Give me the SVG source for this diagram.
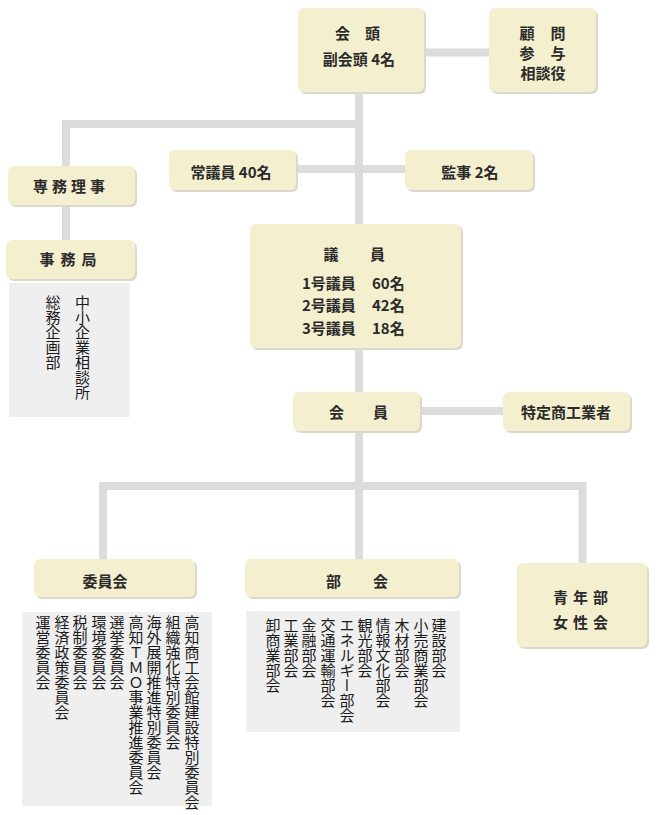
<svg xmlns="http://www.w3.org/2000/svg" width="660" height="815" viewBox="0 0 660 815">
<style>
.ln{fill:none;stroke:#dcdcdc;stroke-width:8;stroke-linejoin:miter;stroke-linecap:butt}
.bx{fill:#f4efcf}
.sh{fill:#dcd9cc}
.gr{fill:#efefef}
.t{font-family:"Noto Sans CJK JP","Noto Sans",sans-serif;font-size:15px;font-weight:bold;fill:#2a2a2a;dominant-baseline:central}
.c{text-anchor:middle}
.v{font-family:"Noto Sans CJK JP","Noto Sans",sans-serif;font-size:15px;fill:#1a1a1a;writing-mode:vertical-rl}
</style>
<rect width="660" height="815" fill="#fff"/>
<g id="connectors">
<path class="ln" d="M359 92V486"/>
<path class="ln" d="M424 52.5H489"/>
<path class="ln" d="M359 124H66V166M66 205V240"/>
<path class="ln" d="M296 169H405"/>
<path class="ln" d="M420 411H503"/>
<path class="ln" d="M103 559V486H582.5V563M359 486V559"/>
</g>
<g id="kaito">
<rect class="sh" x="300" y="10" width="126" height="84" rx="6"/>
<rect class="bx" x="298" y="8" width="126" height="84" rx="6"/>
<text class="t c" x="342.5 372.5" y="32">会頭</text>
<text class="t c" x="359" y="58">副会頭 4名</text>
</g>
<g id="komon">
<rect class="sh" x="491" y="10" width="107" height="84" rx="6"/>
<rect class="bx" x="489" y="8" width="107" height="84" rx="6"/>
<text class="t c" x="527 558" y="32">顧問</text>
<text class="t c" x="527 558" y="52">参与</text>
<text class="t c" x="543" y="72">相談役</text>
</g>
<g id="jogiin">
<rect class="sh" x="171" y="152" width="127" height="40" rx="6"/>
<rect class="bx" x="169" y="150" width="127" height="40" rx="6"/>
<text class="t c" x="231" y="171">常議員 40名</text>
</g>
<g id="kanji">
<rect class="sh" x="407" y="152" width="128" height="40" rx="6"/>
<rect class="bx" x="405" y="150" width="128" height="40" rx="6"/>
<text class="t c" x="470" y="171">監事 2名</text>
</g>
<g id="senmu">
<rect class="sh" x="10" y="168" width="127" height="39" rx="6"/>
<rect class="bx" x="8" y="166" width="127" height="39" rx="6"/>
<text class="t c" x="71" y="185" letter-spacing="4">専務理事</text>
</g>
<g id="jimukyoku">
<rect class="sh" x="8" y="242" width="129" height="39" rx="6"/>
<rect class="bx" x="6" y="240" width="129" height="39" rx="6"/>
<text class="t c" x="71" y="258" letter-spacing="6">事務局</text>
<rect class="gr" x="9" y="283" width="121" height="134"/>
<text class="v" x="82.5" y="295">中小企業相談所</text>
<text class="v" x="53" y="295">総務企画部</text>
</g>
<g id="giin">
<rect class="sh" x="252" y="226" width="211" height="124" rx="6"/>
<rect class="bx" x="250" y="224" width="211" height="124" rx="6"/>
<text class="t c" x="331 377.5" y="253">議員</text>
<text class="t" x="302" y="282">1号議員</text><text class="t" x="372" y="282">60名</text>
<text class="t" x="302" y="304">2号議員</text><text class="t" x="372" y="304">42名</text>
<text class="t" x="302" y="327">3号議員</text><text class="t" x="372" y="327">18名</text>
</g>
<g id="kaiin">
<rect class="sh" x="295" y="394" width="127" height="39" rx="6"/>
<rect class="bx" x="293" y="392" width="127" height="39" rx="6"/>
<text class="t c" x="336.5 380.5" y="411">会員</text>
</g>
<g id="tokutei">
<rect class="sh" x="505" y="394" width="127" height="39" rx="6"/>
<rect class="bx" x="503" y="392" width="127" height="39" rx="6"/>
<text class="t c" x="566" y="411">特定商工業者</text>
</g>
<g id="iinkai">
<rect class="sh" x="36" y="561" width="161" height="38" rx="6"/>
<rect class="bx" x="34" y="559" width="161" height="38" rx="6"/>
<text class="t c" x="105" y="580">委員会</text>
<rect class="gr" x="22" y="612" width="190" height="194"/>
<text class="v" x="192" y="615">高知商工会館建設特別委員会</text>
<text class="v" x="173" y="615">組織強化特別委員会</text>
<text class="v" x="154" y="615">海外展開推進特別委員会</text>
<text class="v" x="136" y="615">高知ＴＭＯ事業推進委員会</text>
<text class="v" x="117" y="615">選挙委員会</text>
<text class="v" x="99" y="615">環境委員会</text>
<text class="v" x="80" y="615">税制委員会</text>
<text class="v" x="62" y="615">経済政策委員会</text>
<text class="v" x="43" y="615">運営委員会</text>
</g>
<g id="bukai">
<rect class="sh" x="247" y="561" width="214" height="38" rx="6"/>
<rect class="bx" x="245" y="559" width="214" height="38" rx="6"/>
<text class="t c" x="333.5 380.5" y="580">部会</text>
<rect class="gr" x="246" y="611" width="214" height="121"/>
<text class="v" x="439" y="618">建設部会</text>
<text class="v" x="421" y="618">小売商業部会</text>
<text class="v" x="402" y="618">木材部会</text>
<text class="v" x="383" y="618">情報文化部会</text>
<text class="v" x="365" y="618">観光部会</text>
<text class="v" x="347" y="618">エネルギー部会</text>
<text class="v" x="328" y="618">交通運輸部会</text>
<text class="v" x="309" y="618">金融部会</text>
<text class="v" x="291" y="618">工業部会</text>
<text class="v" x="273" y="618">卸商業部会</text>
</g>
<g id="seinenbu">
<rect class="sh" x="519" y="565" width="130" height="84" rx="6"/>
<rect class="bx" x="517" y="563" width="130" height="84" rx="6"/>
<text class="t c" x="583" y="596" letter-spacing="5">青年部</text>
<text class="t c" x="583" y="621" letter-spacing="5">女性会</text>
</g>
</svg>
